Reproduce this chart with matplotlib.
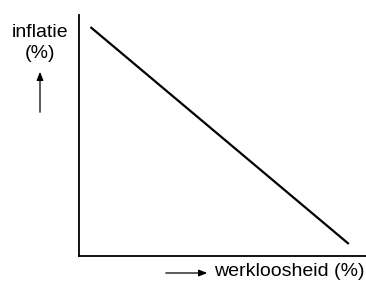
import matplotlib
matplotlib.use("Agg")
import matplotlib.pyplot as plt

werkloosheid = [0.4, 9.4]
inflatie = [9.5, 0.5]
xlabel = "werkloosheid (%)"
ylabel = "inflatie\n(%)"

plt.rcParams['font.family'] = ['Liberation Sans', 'DejaVu Sans']
fig = plt.figure(figsize=(3.66, 2.88), dpi=100)
ax = fig.add_axes([79/366, 32/288, 287/366, 241/288])
ax.plot(werkloosheid, inflatie, color='black', lw=1.6, solid_capstyle='butt')
ax.set_xlim(0, 10)
ax.set_ylim(0, 10)
ax.set_xticks([])
ax.set_yticks([])
for s in ['top', 'right']:
    ax.spines[s].set_visible(False)
for s in ['left', 'bottom']:
    ax.spines[s].set_linewidth(1.3)

fig.text(40/366, 1 - 43/288, ylabel, ha='center', va='center', fontsize=14, linespacing=1.35)
fig.text(214/366, 1 - 272/288, xlabel, ha='left', va='center', fontsize=14)
fig.add_artist(matplotlib.patches.FancyArrowPatch((40/366, 1 - 115/288), (40/366, 1 - 69/288),
    transform=fig.transFigure, arrowstyle='-|>,head_length=5,head_width=2', lw=0.9, color='black', mutation_scale=1))
fig.add_artist(matplotlib.patches.FancyArrowPatch((163/366, 1 - 273/288), (210/366, 1 - 273/288),
    transform=fig.transFigure, arrowstyle='-|>,head_length=5,head_width=2', lw=0.9, color='black', mutation_scale=1))
fig.savefig("out.png", dpi=100)
